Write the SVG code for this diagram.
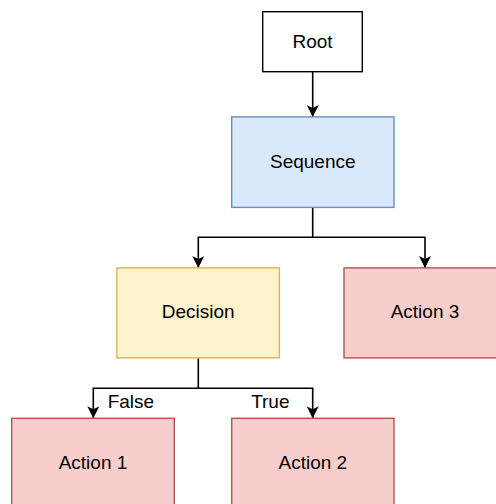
<svg xmlns="http://www.w3.org/2000/svg" width="496" height="504" viewBox="0 0 496 504">
<style>
.box{stroke-width:1.4}
.root{fill:#ffffff;stroke:#000000}
.blue{fill:#dae8fc;stroke:#6c8ebf}
.yellow{fill:#fff2cc;stroke:#d6b656}
.red{fill:#f8cecc;stroke:#b85450}
text{font-family:"Liberation Sans",Arial,sans-serif;font-size:19px;fill:#000000}
.lbl{text-anchor:middle}
.edge{fill:none;stroke:#000000;stroke-width:1.6}
</style>
<defs>
<marker id="arr" viewBox="0 0 12 12" refX="12" refY="6" markerWidth="12" markerHeight="12" markerUnits="userSpaceOnUse" orient="auto">
<path d="M0,0 L12,6 L0,12 L3,6 Z" fill="#000000"/>
</marker>
</defs>
<rect width="496" height="504" fill="#ffffff"/>
<g id="connectors">
<path class="edge" d="M312.7,72 V117" marker-end="url(#arr)"/>
<path class="edge" d="M312.7,207.5 V237.3 H198.3 V268" marker-end="url(#arr)"/>
<path class="edge" d="M312.7,237.3 H425 V268" marker-end="url(#arr)"/>
<path class="edge" d="M198.3,358 V388.3 H93.3 V418.3" marker-end="url(#arr)"/>
<path class="edge" d="M198.3,388.3 H312.7 V418.3" marker-end="url(#arr)"/>
<text x="107.7" y="408">False</text>
<text x="289.5" y="408" text-anchor="end">True</text>
</g>
<g id="root">
<rect class="box root" x="262.7" y="11.7" width="99.6" height="60"/>
<text class="lbl" x="312.5" y="47.7">Root</text>
</g>
<g id="sequence">
<rect class="box blue" x="231.7" y="116.9" width="162.3" height="90.5"/>
<text class="lbl" x="312.8" y="167.5">Sequence</text>
</g>
<g id="decision">
<rect class="box yellow" x="116.9" y="267.9" width="162.5" height="90"/>
<text class="lbl" x="198.2" y="318.3">Decision</text>
</g>
<g id="action3">
<rect class="box red" x="344" y="267.9" width="162.5" height="90"/>
<text class="lbl" x="425" y="318.3">Action 3</text>
</g>
<g id="action1">
<rect class="box red" x="11.7" y="418.3" width="162.6" height="90"/>
<text class="lbl" x="93" y="468.5">Action 1</text>
</g>
<g id="action2">
<rect class="box red" x="231.7" y="418.3" width="162.3" height="90"/>
<text class="lbl" x="312.8" y="468.5">Action 2</text>
</g>
</svg>
